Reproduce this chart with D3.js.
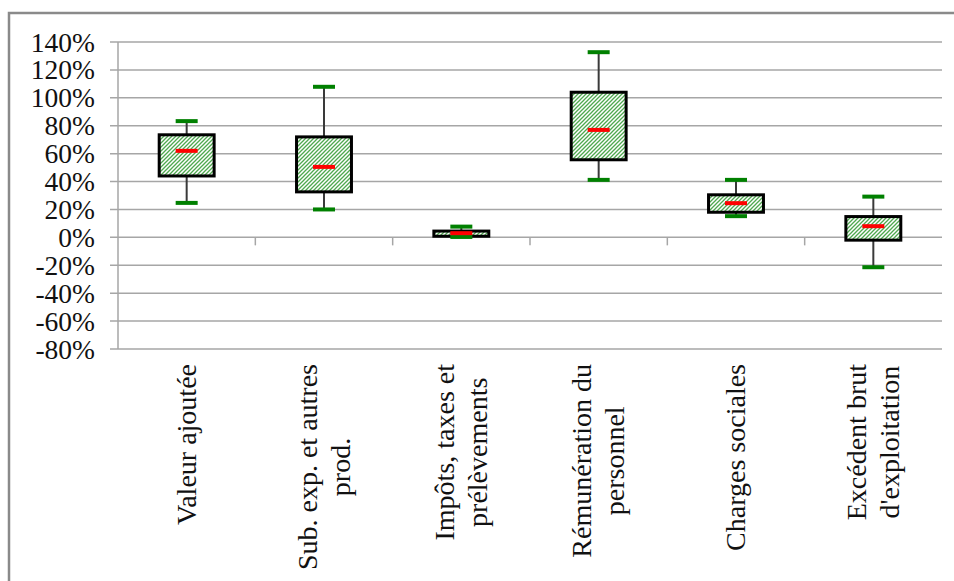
<!DOCTYPE html>
<html><head><meta charset="utf-8">
<script src="https://cdn.jsdelivr.net/npm/d3@7"></script>
<style>html,body{margin:0;padding:0;background:#fff;}svg{display:block;}</style>
</head><body>
<svg id="chart" width="954" height="581"></svg>
<script>
const categories = [
  ["Valeur ajoutée"],
  ["Sub. exp. et autres", "prod."],
  ["Impôts, taxes et", "prélèvements"],
  ["Rémunération du", "personnel"],
  ["Charges sociales"],
  ["Excédent brut", "d'exploitation"]
];
const whiskerLow  = [0.247, 0.200, 0.003, 0.412, 0.152, -0.214];
const q1          = [0.440, 0.326, 0.008, 0.556, 0.180, -0.020];
const median      = [0.620, 0.505, 0.030, 0.770, 0.245, 0.080];
const q3          = [0.735, 0.720, 0.045, 1.040, 0.305, 0.149];
const whiskerHigh = [0.833, 1.079, 0.077, 1.327, 0.412, 0.292];
const yTicks = [1.4, 1.2, 1.0, 0.8, 0.6, 0.4, 0.2, 0, -0.2, -0.4, -0.6, -0.8];

(function () {
const svg = d3.select("#chart");
const pLeft = 118, pRight = 942, pTop = 42, pBottom = 349;
const FONT = "'Liberation Serif', 'Times New Roman', serif";

// hatch pattern
const defs = svg.append("defs");
const pat = defs.append("pattern").attr("id", "hatch")
  .attr("patternUnits", "userSpaceOnUse").attr("width", 4).attr("height", 4);
pat.append("rect").attr("width", 4).attr("height", 4).attr("fill", "#fff");
pat.append("path").attr("d", "M-1,1 l2,-2 M0,4 l4,-4 M3,5 l2,-2")
  .attr("stroke", "#4fa84f").attr("stroke-width", 1.3);

// outer border
svg.append("rect").attr("x", 9).attr("y", 13).attr("width", 960).attr("height", 600)
  .attr("fill", "none").attr("stroke", "#8a8a8a").attr("stroke-width", 2.5);

const y = d3.scaleLinear().domain([-0.8, 1.4]).range([pBottom, pTop]);
const x = d3.scaleBand().domain(d3.range(categories.length)).range([pLeft, pRight]).padding(0);

// gridlines
svg.append("g").selectAll("line").data(yTicks).join("line")
  .attr("x1", pLeft - 8).attr("x2", pRight)
  .attr("y1", d => y(d)).attr("y2", d => y(d))
  .attr("stroke", "#a6a6a6").attr("stroke-width", 1.5);

// y axis line
svg.append("line").attr("x1", pLeft).attr("x2", pLeft).attr("y1", pTop).attr("y2", pBottom)
  .attr("stroke", "#a6a6a6").attr("stroke-width", 1.5);

// y tick labels
const pct = d => Math.round(d * 100) + "%";
svg.append("g").selectAll("text").data(yTicks).join("text")
  .attr("x", 95).attr("y", d => y(d) + 9.5)
  .attr("text-anchor", "end")
  .attr("font-family", FONT).attr("font-size", 27.5).attr("fill", "#111")
  .text(pct);

// category tick marks on zero line
svg.append("g").selectAll("line").data(d3.range(1, categories.length)).join("line")
  .attr("x1", d => x(d)).attr("x2", d => x(d))
  .attr("y1", y(0)).attr("y2", y(0) + 8)
  .attr("stroke", "#a6a6a6").attr("stroke-width", 1.5);

const bw = x.bandwidth() * 0.4;
const cw = 22;
const idx = d3.range(categories.length);
const g = svg.append("g");

// whisker stems
g.selectAll("line.stem").data(idx).join("line").attr("class", "stem")
  .attr("x1", i => x(i) + x.bandwidth() / 2).attr("x2", i => x(i) + x.bandwidth() / 2)
  .attr("y1", i => y(whiskerHigh[i])).attr("y2", i => y(whiskerLow[i]))
  .attr("stroke", "#3a3a3a").attr("stroke-width", 2);

// boxes
g.selectAll("rect.box").data(idx).join("rect").attr("class", "box")
  .attr("x", i => x(i) + x.bandwidth() / 2 - bw / 2)
  .attr("width", bw)
  .attr("y", i => y(q3[i]))
  .attr("height", i => y(q1[i]) - y(q3[i]))
  .attr("fill", "url(#hatch)").attr("stroke", "#000").attr("stroke-width", 3);

// caps
[whiskerHigh, whiskerLow].forEach(arr => {
  g.append("g").selectAll("line").data(idx).join("line")
    .attr("x1", i => x(i) + x.bandwidth() / 2 - cw / 2)
    .attr("x2", i => x(i) + x.bandwidth() / 2 + cw / 2)
    .attr("y1", i => y(arr[i])).attr("y2", i => y(arr[i]))
    .attr("stroke", "#008000").attr("stroke-width", 4);
});

// medians
g.append("g").selectAll("line").data(idx).join("line")
  .attr("x1", i => x(i) + x.bandwidth() / 2 - cw / 2)
  .attr("x2", i => x(i) + x.bandwidth() / 2 + cw / 2)
  .attr("y1", i => y(median[i])).attr("y2", i => y(median[i]))
  .attr("stroke", "#ff0000").attr("stroke-width", 4);

// category labels (rotated)
const lineGap = 33, capH = 18.5, labTop = 364;
categories.forEach((lines, i) => {
  const cx = x(i) + x.bandwidth() / 2;
  const lg = svg.append("g").attr("transform", `translate(${cx},${labTop}) rotate(-90)`);
  const texts = lines.map((t, k) => lg.append("text")
    .attr("font-family", FONT).attr("font-size", 28).attr("fill", "#111")
    .attr("text-anchor", "middle")
    .attr("y", capH / 2 + (k - (lines.length - 1) / 2) * lineGap)
    .text(t));
  const maxLen = d3.max(texts, t => t.node().getComputedTextLength());
  texts.forEach(t => t.attr("x", -maxLen / 2));
});
})();
</script>
</body></html>
